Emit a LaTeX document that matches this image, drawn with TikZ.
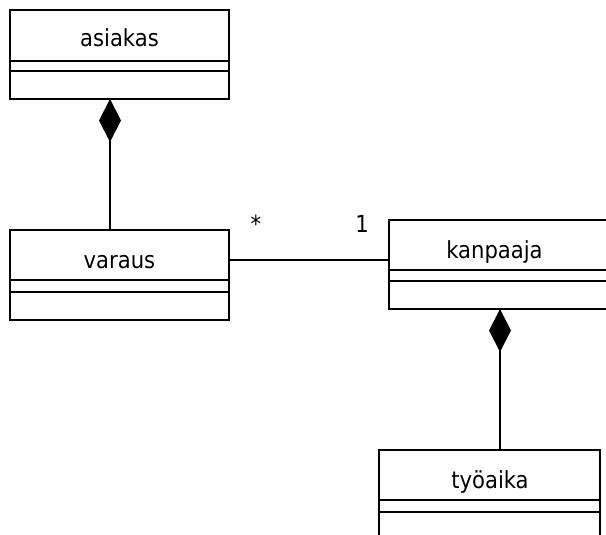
\documentclass[tikz,border=0pt]{standalone}
\usepackage{fontspec}
\setmainfont{DejaVu Sans Condensed}
\usetikzlibrary{arrows.meta}
\tikzset{
  comp/.style={draw, line width=1.8pt, rectangle, inner sep=0pt, outer sep=0pt, anchor=north west, minimum width=#1},
  title/.style={anchor=base, inner sep=0pt, font=\fontsize{23.5}{27}\selectfont},
  conn/.style={line width=1.8pt},
  compo/.style={line width=1.8pt, -{Diamond[length=43pt,width=22pt]}},
}
\begin{document}
\begin{tikzpicture}[x=1pt,y=-1pt]
\useasboundingbox (0,0) rectangle (606,535);
\fill[white] (0,0) rectangle (606,535);
\clip (0,0) rectangle (606,535);
% asiakas
\node[comp=219pt, minimum height=51pt] (asiakasN) at (10,10) {};
\node[comp=219pt, minimum height=10pt] (asiakasA) at (asiakasN.south west) {};
\node[comp=219pt, minimum height=28pt] (asiakasO) at (asiakasA.south west) {};
\node[title] (asiakasT) at (119.5,47) {asiakas};
% varaus
\node[comp=219pt, minimum height=50pt] (varausN) at (10,230) {};
\node[comp=219pt, minimum height=12pt] (varausA) at (varausN.south west) {};
\node[comp=219pt, minimum height=28pt] (varausO) at (varausA.south west) {};
\node[title] (varausT) at (119.5,268) {varaus};
% kanpaaja
\node[comp=221pt, minimum height=50pt] (kanpaajaN) at (389,220) {};
\node[comp=221pt, minimum height=11pt] (kanpaajaA) at (kanpaajaN.south west) {};
\node[comp=221pt, minimum height=28pt] (kanpaajaO) at (kanpaajaA.south west) {};
\node[title] (kanpaajaT) at (494.5,258) {kanpaaja};
% tyoaika
\node[comp=221pt, minimum height=50pt] (tyoaikaN) at (379,450) {};
\node[comp=221pt, minimum height=12pt] (tyoaikaA) at (tyoaikaN.south west) {};
\node[comp=221pt, minimum height=28pt] (tyoaikaO) at (tyoaikaA.south west) {};
\node[title] (tyoaikaT) at (490,488) {työaika};
% connectors
\draw[compo] ([xshift=-9.5pt]varausN.north) -- ([xshift=-9.5pt]varausN.north |- asiakasO.south);
\draw[compo] ([xshift=10.5pt]tyoaikaN.north) -- ([xshift=10.5pt]tyoaikaN.north |- kanpaajaO.south);
\draw[conn] ([yshift=-5pt]varausN.east) -- ([yshift=-5pt]varausN.east -| kanpaajaN.west);
% multiplicities
\node[title] (mstar) at (256,232) {*};
\node[title] (mone) at (362,233) {1};
\end{tikzpicture}
\end{document}
